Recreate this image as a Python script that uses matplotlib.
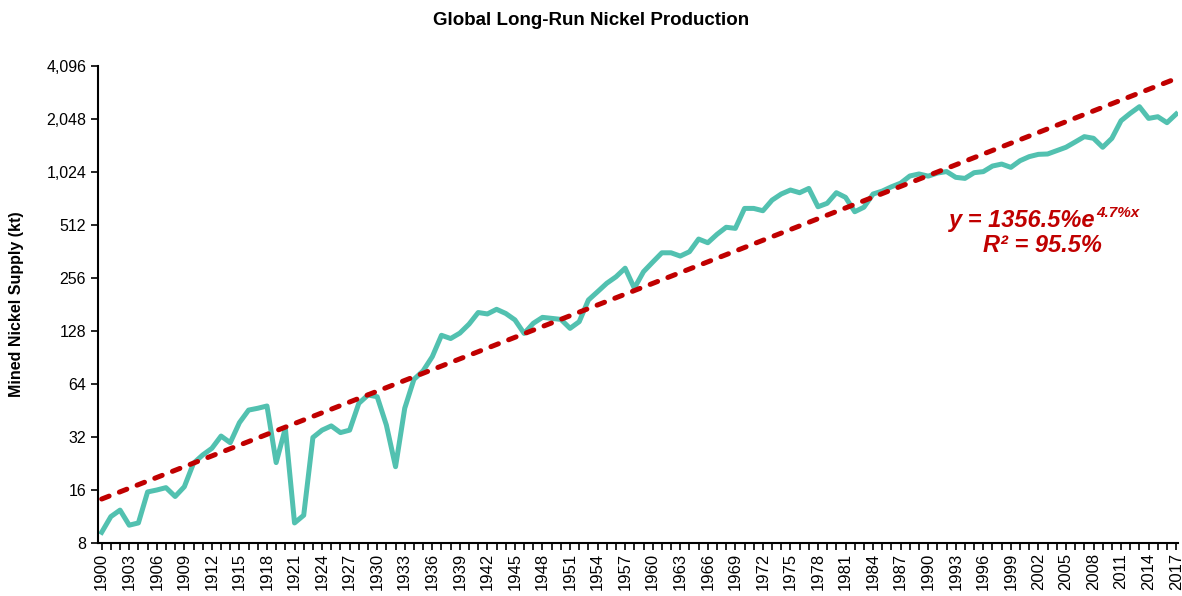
import numpy as np
import matplotlib.pyplot as plt
from matplotlib.ticker import FixedLocator, FuncFormatter, MultipleLocator

plt.rcParams['font.family'] = ['Liberation Sans', 'DejaVu Sans']

years = np.arange(1900, 2018)
supply = [
    9.2, 11.3, 12.3, 10.1, 10.4, 15.6, 16.0, 16.5, 14.7, 16.7,      # 1900s
    22.7, 25.3, 27.6, 32.4, 29.7, 38.6, 45.5, 46.6, 48.0, 22.9,     # 1910s
    35.9, 10.4, 11.5, 31.8, 35.0, 37.0, 33.9, 35.0, 49.7, 55.4,     # 1920s
    54.2, 37.4, 21.7, 46.6, 68.0, 76.0, 91.5, 121.0, 116.0, 124.5,  # 1930s
    140.0, 163.0, 160.0, 170.0, 161.0, 148.0, 124.0, 141.6, 153.0, 151.0,  # 1940s
    149.0, 132.5, 144.6, 192.0, 214.0, 239.0, 260.0, 291.0, 224.0, 278.0,  # 1950s
    315.0, 356.0, 356.0, 341.0, 361.0, 426.0, 406.0, 453.0, 497.0, 490.0,  # 1960s
    636.0, 636.0, 617.0, 709.0, 768.0, 809.0, 781.0, 826.0, 650.0, 680.0,  # 1970s
    781.0, 735.0, 609.0, 646.0, 768.0, 798.0, 844.0, 885.0, 972.0, 998.0,  # 1980s
    970.0, 1010.0, 1030.0, 955.0, 942.0, 1015.0, 1029.0, 1107.0, 1136.0, 1088.0,  # 1990s
    1187.0, 1252.0, 1290.0, 1296.0, 1354.0, 1415.0, 1516.0, 1626.0, 1591.0, 1415.0,  # 2000s
    1591.0, 2003.0, 2206.0, 2406.0, 2064.0, 2110.0, 1952.0, 2185.0,  # 2010s
]

# trendline as given in the chart label: y = 1356.5% * e^(4.7% x), x = 1..n
trend_a = 13.565
trend_b = 0.047
trend = trend_a * np.exp(trend_b * np.arange(1, len(years) + 1))

yticks = [8, 16, 32, 64, 128, 256, 512, 1024, 2048, 4096]
xticks = list(range(1900, 2018, 3))

fig = plt.figure(figsize=(11.82, 5.96), dpi=100)
ax = fig.add_axes([98 / 1182, 53 / 596, 1080 / 1182, 477 / 596])

ax.plot(years, supply, color='#52C1B0', lw=3.6, solid_joinstyle='round', zorder=2)
ax.plot(years, trend, color='#C00000', lw=3.6, dashes=(1.6, 2.2),
        dash_capstyle='round', zorder=3)

ax.set_yscale('log', base=2)
ax.set_ylim(8, 4096)
ax.yaxis.set_major_locator(FixedLocator(yticks))
ax.yaxis.set_major_formatter(FuncFormatter(lambda v, p: f'{int(round(v)):,}'))
ax.yaxis.set_minor_locator(FixedLocator([]))

ax.set_xlim(1899.6, 2017.2)
ax.xaxis.set_major_locator(FixedLocator(xticks))
ax.xaxis.set_minor_locator(MultipleLocator(1))
ax.xaxis.set_major_formatter(FuncFormatter(lambda v, p: f'{int(v)}'))
plt.setp(ax.get_xticklabels(), rotation=90)

ax.tick_params(axis='y', labelsize=11.5, direction='out', length=5, width=1.2)
ax.tick_params(axis='x', which='both', labelsize=12, direction='out',
               length=5, width=1.2, pad=2)

for s in ['top', 'right']:
    ax.spines[s].set_visible(False)
for s in ['left', 'bottom']:
    ax.spines[s].set_linewidth(1.5)

ax.set_ylabel('Mined Nickel Supply (kt)', fontsize=11.5, fontweight='bold', labelpad=16)
fig.text(0.5, 0.965, 'Global Long-Run Nickel Production', ha='center', va='center',
         fontsize=13.5, fontweight='bold')

# equation label
fig.text(1095 / 1182, 1 - 220 / 596, 'y = 1356.5%e', ha='right', va='center',
         fontsize=17, fontweight='bold', style='italic', color='#C00000')
fig.text(1096 / 1182, 1 - 213 / 596, '4.7%x', ha='left', va='center',
         fontsize=11, fontweight='bold', style='italic', color='#C00000')
fig.text(1042 / 1182, 1 - 246 / 596, 'R² = 95.5%', ha='center', va='center',
         fontsize=17, fontweight='bold', style='italic', color='#C00000')

fig.savefig('out.png', dpi=100)
